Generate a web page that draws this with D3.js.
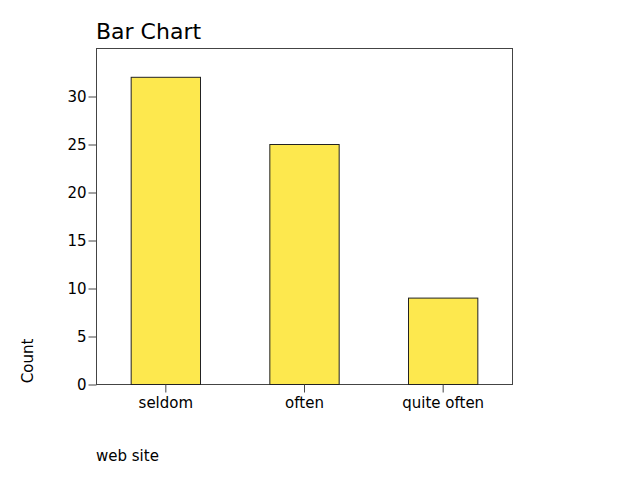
<!DOCTYPE html>
<html>
<head>
<meta charset="utf-8">
<script src="https://cdn.jsdelivr.net/npm/d3@7"></script>
<style>
  body { margin: 0; background: #fff; }
  svg { font-family: "DejaVu Sans", sans-serif; }
</style>
</head>
<body>
<svg width="640" height="480"></svg>
<script>
var categories = ["seldom", "often", "quite often"];
var counts = [32, 25, 9];
var yTicks = [0, 5, 10, 15, 20, 25, 30];

var svg = d3.select("svg"),
    plotL = 96, plotR = 512, plotT = 48, plotB = 384;

var x = d3.scaleBand()
    .domain(categories)
    .range([plotL, plotR])
    .paddingInner(0.5)
    .paddingOuter(0.25);

var y = d3.scaleLinear()
    .domain([0, 35])
    .range([plotB, plotT]);

// frame
svg.append("rect")
    .attr("x", plotL + 0.5).attr("y", plotT + 0.5)
    .attr("width", plotR - plotL).attr("height", plotB - plotT)
    .attr("fill", "none").attr("stroke", "#444").attr("stroke-width", 1);

svg.selectAll("rect.bar")
    .data(counts)
    .enter().append("rect")
      .attr("class", "bar")
      .attr("x", function(d, i) { return x(categories[i]) + 0.5; })
      .attr("y", function(d) { return y(d) + 0.5; })
      .attr("width", x.bandwidth())
      .attr("height", function(d) { return plotB - y(d); })
      .attr("fill", "#fde84e")
      .attr("stroke", "#222")
      .attr("stroke-width", 1);

var yAxis = svg.append("g")
    .attr("transform", "translate(" + (plotL + 0.5) + ",0.5)")
    .call(d3.axisLeft(y).tickValues(yTicks).tickSize(8).tickPadding(2));
var xAxis = svg.append("g")
    .attr("transform", "translate(0.5," + (plotB + 0.5) + ")")
    .call(d3.axisBottom(x).tickSize(8).tickPadding(5));

[yAxis, xAxis].forEach(function(a) {
  a.select(".domain").remove();
  a.selectAll(".tick line").attr("stroke", "#444");
  a.selectAll(".tick text")
      .attr("fill", "#000")
      .style("font-family", "DejaVu Sans")
      .style("font-size", "15px");
});

svg.append("text")
    .attr("x", 96).attr("y", 39)
    .style("font-size", "22px")
    .text("Bar Chart");

svg.append("text")
    .attr("transform", "translate(33,361) rotate(-90)")
    .attr("text-anchor", "middle")
    .style("font-size", "15px")
    .text("Count");

svg.append("text")
    .attr("x", 96).attr("y", 461)
    .style("font-size", "15px")
    .text("web site");
</script>
</body>
</html>
